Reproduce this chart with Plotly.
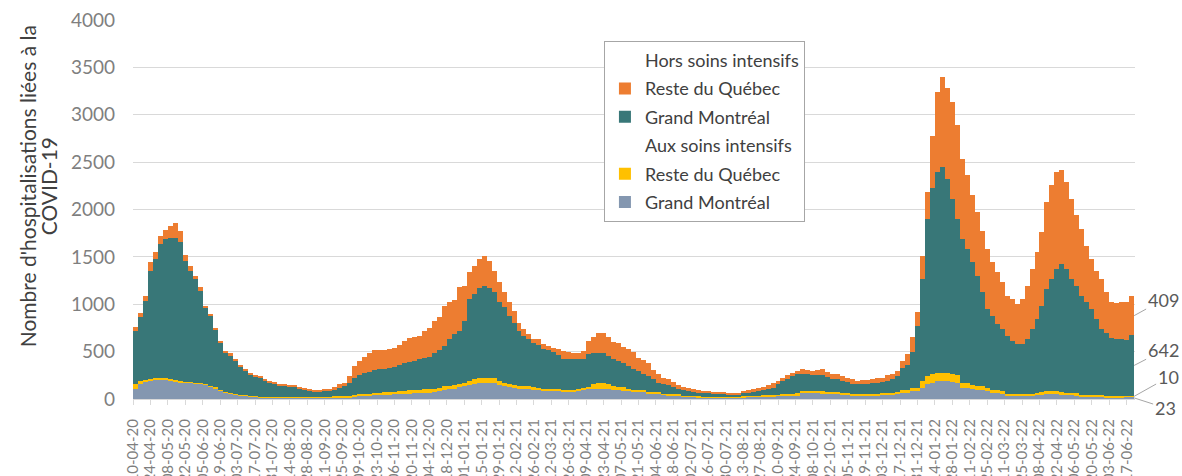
import pandas as pd
import plotly.graph_objects as go

# 4-day bars, first bar centred on 12 April 2020
start = "2020-04-12"
step_days = 4

# Aux soins intensifs - Grand Montréal
gm_icu = [110, 163, 184, 194, 205, 208, 205, 198, 184, 177, 173, 170, 163, 159, 148, 131, 113, 88, 71, 57,
          46, 39, 32, 28, 25, 18, 18, 18, 18, 18, 18, 18, 18, 14, 14, 14, 14, 14, 14, 14, 14, 14,
          16, 20, 30, 38, 41, 41, 45, 48, 51, 51, 53, 55, 57, 58, 60, 62, 65, 68, 72, 80,
          92, 101, 110, 125, 136, 150, 160, 170, 171, 171, 168, 150, 136, 128, 120, 110, 101, 101, 95, 90,
          85, 83, 83, 80,
          83, 83, 83, 85, 95, 101, 105, 108, 108, 105, 95, 90, 88, 85, 76, 76, 70, 62, 58, 55,
          45, 41, 41, 38, 28, 23, 23, 20, 18, 16, 16, 16, 16, 16, 16, 16, 20, 23, 23, 23,
          25, 28, 30, 32, 34, 35, 38, 40,
          65, 65, 65, 65, 63, 58, 55, 55, 52, 45, 37, 37, 37, 37, 40, 42, 48, 48, 48, 55,
          65, 65, 80, 83, 118, 154, 170, 189, 189, 189, 180, 171,
          118, 118, 105, 94, 94, 85, 65, 65, 55, 41, 41, 41, 41, 37, 37, 40, 45, 48, 48, 48,
          46, 44, 44, 40, 30, 30, 30, 30, 28, 19, 19, 19, 20, 22, 23]

# Aux soins intensifs - Reste du Québec
rq_icu = [50, 24, 21, 18, 14, 15, 14, 14, 14, 10, 11, 10, 10, 11, 11, 10, 11, 11, 7, 7,
          7, 7, 7, 4, 3, 7, 7, 7, 7, 7, 7, 7, 7, 7, 7, 7, 7, 7, 10, 12, 14, 14,
          14, 14, 15, 17, 17, 17, 18, 20, 21, 21, 22, 25, 30, 34, 36, 38, 38, 38, 36, 38,
          40, 35, 35, 35, 35, 40, 50, 54, 53, 53, 50, 40, 35, 33, 30, 30, 35, 35, 30, 25,
          23, 25, 25, 25,
          17, 17, 17, 18, 22, 24, 50, 63, 63, 55, 40, 39, 35, 25, 24, 24, 22, 14, 14, 15,
          10, 10, 10, 10, 8, 11, 11, 8, 7, 7, 7, 7, 7, 7, 7, 7, 10, 11, 11, 11,
          12, 13, 14, 15, 16, 17, 18, 20,
          18, 18, 18, 18, 18, 17, 17, 17, 16, 14, 11, 11, 11, 11, 12, 13, 17, 17, 17, 20,
          25, 25, 35, 35, 71, 88, 90, 88, 88, 88, 80, 78,
          53, 53, 45, 42, 42, 35, 29, 29, 25, 17, 17, 17, 17, 21, 21, 25, 25, 35, 35, 35,
          29, 21, 21, 20, 14, 14, 14, 14, 12, 11, 11, 11, 10, 10, 10]

# Hors soins intensifs - Grand Montréal
gm_hors = [560, 682, 830, 1141, 1258, 1413, 1471, 1484, 1498, 1467, 1276, 1173, 1092, 971, 806, 735, 611, 495, 410, 395,
           353, 300, 265, 226, 212, 198, 169, 145, 134, 120, 113, 109, 106, 85, 74, 67, 60, 57, 61, 66, 71, 89,
           106, 130, 179, 197, 219, 230, 242, 244, 248, 255, 266, 275, 289, 298, 308, 318, 329, 341, 381, 399,
           428, 494, 538, 559, 654, 864, 897, 943, 964, 943, 907, 829, 795, 716, 657, 579, 530, 494, 470, 451,
           423, 409, 388, 356,
           318, 318, 318, 315, 308, 346, 334, 318, 318, 294, 290, 276, 260, 240, 212, 195, 168, 166, 135, 101,
           99, 92, 78, 60, 54, 49, 38, 37, 40, 42, 32, 32, 32, 21, 21, 21, 35, 34, 42, 46,
           53, 60, 74, 107, 139, 162, 186, 207,
           177, 177, 175, 172, 174, 155, 135, 135, 127, 116, 106, 106, 106, 112, 119, 116, 115, 130, 142, 167,
           240, 270, 385, 654, 1077, 1660, 1970, 2119, 2172, 2048, 1853, 1653,
           1519, 1413, 1293, 1165, 989, 829, 784, 695, 656, 607, 555, 519, 519, 572, 678, 777, 913, 1077, 1183, 1289,
           1350, 1307, 1201, 1135, 1046, 975, 905, 798, 696, 671, 618, 600, 600, 591, 642]

# Hors soins intensifs - Reste du Québec
rq_hors = [35, 43, 53, 89, 71, 89, 98, 135, 163, 124, 55, 54, 35, 36, 20, 18, 18, 17, 17, 22,
           18, 18, 14, 18, 14, 17, 18, 17, 11, 14, 14, 14, 14, 11, 11, 11, 7, 10, 14, 18, 25, 46,
           35, 78, 124, 149, 170, 194, 209, 202, 194, 197, 201, 211, 237, 251, 251, 248, 287, 307, 336, 353,
           423, 389, 364, 459, 370, 283, 300, 311, 325, 293, 229, 212, 159, 142, 123, 88, 70, 53, 35, 64,
           46, 43, 46, 63,
           88, 78, 71, 71, 81, 142, 170, 205, 212, 205, 177, 183, 169, 174, 184, 141, 151, 134, 95, 89,
           70, 64, 53, 42, 32, 28, 29, 25, 18, 11, 17, 17, 10, 14, 11, 11, 18, 26, 25, 35,
           39, 42, 46, 38, 35, 35, 28, 28,
           52, 45, 42, 50, 57, 50, 53, 53, 47, 49, 53, 35, 45, 39, 36, 53, 44, 54, 53, 58,
           70, 120, 150, 141, 247, 282, 550, 847, 953, 954, 1025, 988,
           847, 776, 705, 671, 653, 635, 565, 548, 495, 425, 441, 424, 477, 565, 636, 707, 777, 918, 988, 1024,
           988, 918, 847, 742, 706, 600, 529, 512, 530, 424, 371, 382, 389, 396, 409]

for s in (rq_icu, gm_hors, rq_hors):
    if len(s) != len(gm_icu):
        raise ValueError("series length mismatch")

dates = pd.date_range(start, periods=len(gm_icu), freq=f"{step_days}D")
bar_w = step_days * 24 * 3600 * 1000
last_edge = dates[-1] + pd.Timedelta(days=step_days / 2)

FONT = "Lato, 'Open Sans', sans-serif"

fig = go.Figure()


def add_bar(vals, name, color, group, rank):
    fig.add_trace(go.Bar(x=dates, y=vals, name=name, width=bar_w,
                         marker=dict(color=color, line=dict(width=0)),
                         legendgroup=group, legendrank=rank))


def add_header(name, group, rank):
    # legend-only entry, used as a group heading
    fig.add_trace(go.Scatter(x=[None], y=[None], mode="markers", name=name,
                             marker=dict(color="rgba(0,0,0,0)"), legendgroup=group,
                             legendrank=rank, hoverinfo="skip"))


# stacking order bottom -> top, legend order via legendrank
add_bar(gm_icu, "Grand Montréal", "#8497B0", "g1", 6)
add_bar(rq_icu, "Reste du Québec", "#FFC000", "g2", 5)
add_header("Aux soins intensifs", "g3", 4)
add_bar(gm_hors, "Grand Montréal", "#387778", "g4", 3)
add_bar(rq_hors, "Reste du Québec", "#ED7D31", "g5", 2)
add_header("Hors soins intensifs", "g6", 1)

# last-value labels on the right
base = 0
for vals, ax, ay in [(gm_icu, 31, 10), (rq_icu, 34, -19), (gm_hors, 29, -15), (rq_hors, 29, -16)]:
    last = vals[-1]
    fig.add_annotation(x=last_edge, y=base + last / 2, text=str(last),
                       showarrow=True, arrowhead=0, arrowwidth=1, arrowcolor="#A6A6A6",
                       ax=ax, ay=ay, font=dict(family=FONT, size=18, color="#595959"))
    base += last

# y axis title, two lines
for txt, xp in [("Nombre d'hospitalisations liées à la", -0.1055), ("COVID-19", -0.0845)]:
    fig.add_annotation(xref="paper", yref="paper", x=xp, y=0.562, text=txt,
                       textangle=-90, showarrow=False, xanchor="center", yanchor="middle",
                       font=dict(family=FONT, size=21, color="#404040"))

fig.update_layout(
    width=1182, height=476,
    margin=dict(l=133, r=47, t=20, b=76.5),
    barmode="stack", bargap=0,
    paper_bgcolor="white", plot_bgcolor="white",
    font=dict(family=FONT, color="#595959"),
    showlegend=True,
    legend=dict(x=0.47, y=0.945, xanchor="left", yanchor="top",
                bgcolor="white", bordercolor="#A6A6A6", borderwidth=1,
                font=dict(family=FONT, size=18, color="#404040"),
                traceorder="grouped", tracegroupgap=2, itemwidth=30),
    xaxis=dict(type="date", range=["2020-04-10", "2022-06-23 17:00"],
               tick0="2020-04-10", dtick=14 * 24 * 3600 * 1000, tickformat="%d-%m-%y",
               tickangle=-90, tickfont=dict(family=FONT, size=15, color="#7F7F7F"),
               showgrid=False, showline=True, linecolor="#D9D9D9", linewidth=1,
               ticks="outside", ticklen=5, tickcolor="#D9D9D9",
               ticklabelstandoff=8, automargin=False),
    yaxis=dict(range=[0, 4000], dtick=500, showgrid=True, gridcolor="#D9D9D9", gridwidth=1,
               zeroline=False, showline=False, ticks="",
               tickfont=dict(family=FONT, size=19, color="#7F7F7F"),
               ticklabelstandoff=17, ticklabeloverflow="allow", automargin=False),
)

# drop the default 8px page margin so the figure fills the window exactly
fig.write_html("out.html", config={"displayModeBar": False},
               post_script="document.body.style.margin='0px';")
